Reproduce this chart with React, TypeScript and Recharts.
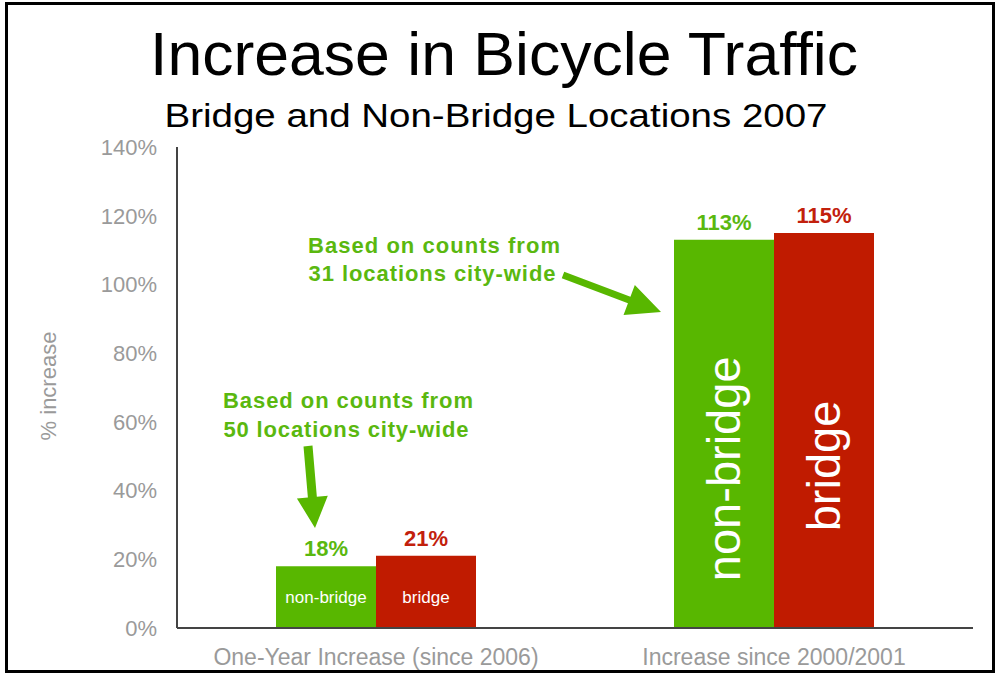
import { Bar, BarChart, LabelList, XAxis, YAxis } from "recharts";

const categories = ["One-Year Increase (since 2006)", "Increase since 2000/2001"];
const nonBridgeValues = [18, 113];
const bridgeValues = [21, 115];
const yTicks = [0, 20, 40, 60, 80, 100, 120, 140];

const GREEN = "#58b700";
const RED = "#c01b00";
const GREEN_TEXT = "#5ab80f";
const RED_TEXT = "#c2200c";
const GRAY = "#9a9a9a";
const FONT = "'Liberation Sans', Arial, Helvetica, sans-serif";

const data = categories.map((category, i) => ({
  category,
  nonBridge: nonBridgeValues[i],
  bridge: bridgeValues[i],
}));

// white name written inside each bar: small and flat for the short bars, big and turned for the tall ones
const innerLabel = (name: string) => (props: any) => {
  const vb = props.viewBox ?? props;
  const { x, y, width, height } = vb;
  const cx = x + width / 2;
  if (props.index === 0) {
    return (
      <text x={cx} y={y + height - 25} textAnchor="middle" fill="#fff" fontSize={17} fontFamily={FONT}>
        {name}
      </text>
    );
  }
  const cy = y + height * 0.59;
  return (
    <text
      x={cx}
      y={cy}
      transform={`rotate(-90 ${cx} ${cy})`}
      textAnchor="middle"
      dominantBaseline="central"
      fill="#fff"
      fontSize={47}
      fontFamily={FONT}
    >
      {name}
    </text>
  );
};

function arrow(x1: number, y1: number, x2: number, y2: number, shaft: number, head: number, headLen: number) {
  const dx = x2 - x1;
  const dy = y2 - y1;
  const len = Math.hypot(dx, dy);
  const ux = dx / len;
  const uy = dy / len;
  const px = -uy;
  const py = ux;
  const bx = x2 - ux * headLen;
  const by = y2 - uy * headLen;
  const pts = [
    [x1 + px * shaft / 2, y1 + py * shaft / 2],
    [bx + px * shaft / 2, by + py * shaft / 2],
    [bx + px * head / 2, by + py * head / 2],
    [x2, y2],
    [bx - px * head / 2, by - py * head / 2],
    [bx - px * shaft / 2, by - py * shaft / 2],
    [x1 - px * shaft / 2, y1 - py * shaft / 2],
  ];
  return pts.map((p) => p.join(",")).join(" ");
}

const noteStyle = {
  fill: GREEN_TEXT,
  fontSize: 22,
  fontWeight: 700,
  fontFamily: FONT,
} as const;

export default function App() {
  return (
    <div style={{ position: "absolute", left: 0, top: 0, width: 999, height: 675, background: "#fff" }}>
      <BarChart
        width={999}
        height={675}
        data={data}
        margin={{ top: 147, right: 26, bottom: 0, left: 0 }}
        barGap={0}
      >
        <XAxis
          dataKey="category"
          height={47}
          axisLine={{ stroke: "#444", strokeWidth: 2 }}
          tickLine={false}
          tickSize={0}
          tickMargin={21}
          tick={{ fill: GRAY, fontSize: 23, fontFamily: FONT }}
        />
        <YAxis
          width={177}
          domain={[0, 140]}
          ticks={yTicks}
          interval={0}
          tickFormatter={(v: number) => `${v}%`}
          axisLine={{ stroke: "#444", strokeWidth: 2 }}
          tickLine={false}
          tickSize={0}
          tickMargin={20}
          tick={{ fill: GRAY, fontSize: 22, fontFamily: FONT }}
        />
        <Bar dataKey="nonBridge" fill={GREEN} barSize={100} isAnimationActive={false}>
          <LabelList
            dataKey="nonBridge"
            position="top"
            offset={10}
            formatter={(v: any) => `${v}%`}
            fill={GREEN_TEXT}
            fontSize={22}
            fontWeight={700}
            fontFamily={FONT}
          />
          <LabelList dataKey="nonBridge" content={innerLabel("non-bridge")} />
        </Bar>
        <Bar dataKey="bridge" fill={RED} barSize={100} isAnimationActive={false}>
          <LabelList
            dataKey="bridge"
            position="top"
            offset={10}
            formatter={(v: any) => `${v}%`}
            fill={RED_TEXT}
            fontSize={22}
            fontWeight={700}
            fontFamily={FONT}
          />
          <LabelList dataKey="bridge" content={innerLabel("bridge")} />
        </Bar>
      </BarChart>

      <svg
        width={999}
        height={675}
        style={{ position: "absolute", left: 0, top: 0, pointerEvents: "none" }}
      >
        <rect x={6.5} y={3.5} width={987} height={668} fill="none" stroke="#000" strokeWidth={3} />
        <text x={504} y={75} textAnchor="middle" fontSize={62} fontFamily={FONT} fill="#000" textLength={708} lengthAdjust="spacingAndGlyphs">
          Increase in Bicycle Traffic
        </text>
        <text x={496} y={127} textAnchor="middle" fontSize={34} fontFamily={FONT} fill="#000" textLength={663} lengthAdjust="spacingAndGlyphs">
          Bridge and Non-Bridge Locations 2007
        </text>
        <text
          x={48}
          y={386}
          transform="rotate(-90 48 386)"
          textAnchor="middle"
          dominantBaseline="central"
          fontSize={22}
          fontFamily={FONT}
          fill={GRAY}
        >
          % increase
        </text>

        <text x={434} y={253} textAnchor="middle" style={noteStyle} textLength={252} lengthAdjust="spacing">
          Based on counts from
        </text>
        <text x={432} y={281} textAnchor="middle" style={noteStyle} textLength={247} lengthAdjust="spacing">
          31 locations city-wide
        </text>
        <polygon points={arrow(563, 275, 661, 312, 7, 32, 34)} fill={GREEN} />

        <text x={348} y={408} textAnchor="middle" style={noteStyle} textLength={250} lengthAdjust="spacing">
          Based on counts from
        </text>
        <text x={346} y={437} textAnchor="middle" style={noteStyle} textLength={245} lengthAdjust="spacing">
          50 locations city-wide
        </text>
        <polygon points={arrow(308, 446, 315, 528, 9, 31, 31)} fill={GREEN} />
      </svg>
    </div>
  );
}
